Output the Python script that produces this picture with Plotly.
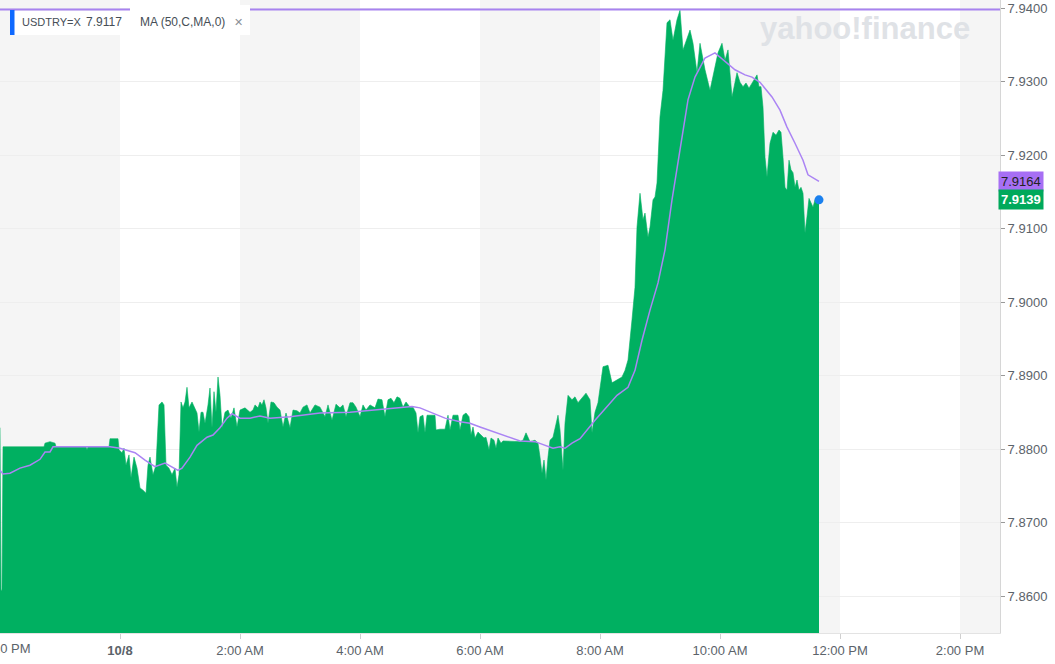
import plotly.graph_objects as go
import pandas as pd

# ---------------- data ----------------
session_start = pd.Timestamp("2020-10-07 22:00")   # minutes below are counted from here

price_minutes = [
    0, 1, 2, 3, 44, 45, 50, 55, 56, 86,
    87, 88, 109, 110, 118, 119, 122, 124, 126, 129,
    131, 134, 137, 140, 143, 146, 148, 150, 153, 156,
    159, 162, 164, 166, 169, 172, 175, 177, 179, 181,
    183, 185, 187, 189, 192, 195, 197, 199, 201, 203,
    205, 208, 210, 212, 214, 216, 218, 220, 222, 225,
    228, 231, 234, 237, 240, 245, 250, 253, 255, 258,
    260, 262, 264, 266, 268, 271, 274, 277, 280, 283,
    286, 290, 293, 297, 300, 303, 307, 310, 315, 320,
    325, 328, 332, 336, 340, 343, 346, 350, 353, 356,
    360, 363, 366, 370, 375, 378, 382, 385, 388, 391,
    394, 397, 400, 403, 406, 410, 413, 416, 418, 420,
    423, 425, 427, 435, 436, 440, 445, 448, 450, 453,
    458, 460, 463, 466, 469, 471, 473, 475, 478, 481,
    484, 486, 489, 491, 494, 496, 498, 501, 503, 520,
    523, 526, 528, 530, 535, 538, 540, 542, 544, 546,
    548, 550, 553, 556, 558, 560, 563, 565, 568, 572,
    575, 578, 582, 586, 590, 592, 595, 598, 603, 608,
    612, 617, 622, 625, 628, 632, 635, 637, 640, 643,
    645, 648, 650, 653, 655, 657, 660, 663, 667, 670,
    673, 677, 680, 683, 688, 690, 693, 697, 700, 705,
    710, 715, 718, 722, 725, 728, 732, 737, 740, 743,
    746, 749, 752, 755, 757, 759, 761, 763, 765, 767,
    770, 773, 776, 779, 781, 783, 785, 787, 789, 791,
    793, 795, 797, 799, 801, 803, 805, 807, 809, 811,
    813, 815, 817, 819,
]
price_values = [
    7.8829, 7.8608, 7.8608, 7.8803, 7.8803, 7.8808, 7.8810, 7.8808, 7.8803, 7.8803,
    7.8799, 7.8803, 7.8803, 7.8814, 7.8814, 7.8799, 7.8795, 7.8801, 7.8778, 7.8792,
    7.8761, 7.8789, 7.8774, 7.8747, 7.8744, 7.8740, 7.8778, 7.8789, 7.8765, 7.8778,
    7.8860, 7.8864, 7.8860, 7.8778, 7.8774, 7.8765, 7.8774, 7.8748, 7.8765, 7.8864,
    7.8856, 7.8864, 7.8884, 7.8856, 7.8864, 7.8856, 7.8849, 7.8823, 7.8850, 7.8850,
    7.8835, 7.8860, 7.8883, 7.8829, 7.8878, 7.8850, 7.8898, 7.8873, 7.8829, 7.8850,
    7.8853, 7.8842, 7.8856, 7.8830, 7.8853, 7.8856, 7.8850, 7.8853, 7.8860, 7.8856,
    7.8864, 7.8860, 7.8867, 7.8856, 7.8835, 7.8864, 7.8863, 7.8857, 7.8853, 7.8830,
    7.8849, 7.8829, 7.8853, 7.8852, 7.8849, 7.8857, 7.8860, 7.8849, 7.8860, 7.8857,
    7.8844, 7.8860, 7.8839, 7.8861, 7.8856, 7.8860, 7.8844, 7.8863, 7.8863, 7.8857,
    7.8844, 7.8860, 7.8853, 7.8860, 7.8856, 7.8868, 7.8867, 7.8844, 7.8867, 7.8869,
    7.8863, 7.8871, 7.8869, 7.8857, 7.8864, 7.8857, 7.8857, 7.8849, 7.8822, 7.8844,
    7.8846, 7.8822, 7.8846, 7.8846, 7.8826, 7.8827, 7.8827, 7.8846, 7.8826, 7.8846,
    7.8846, 7.8826, 7.8846, 7.8849, 7.8844, 7.8819, 7.8830, 7.8815, 7.8823, 7.8819,
    7.8815, 7.8816, 7.8799, 7.8815, 7.8812, 7.8801, 7.8815, 7.8808, 7.8811, 7.8810,
    7.8812, 7.8822, 7.8815, 7.8810, 7.8812, 7.8808, 7.8789, 7.8767, 7.8785, 7.8758,
    7.8789, 7.8812, 7.8816, 7.8835, 7.8846, 7.8826, 7.8771, 7.8835, 7.8873, 7.8867,
    7.8871, 7.8863, 7.8869, 7.8876, 7.8867, 7.8822, 7.8850, 7.8863, 7.8912, 7.8914,
    7.8890, 7.8894, 7.8898, 7.8907, 7.8921, 7.8976, 7.9020, 7.9102, 7.9148, 7.9112,
    7.9121, 7.9088, 7.9102, 7.9139, 7.9143, 7.9162, 7.9252, 7.9288, 7.9380, 7.9384,
    7.9356, 7.9384, 7.9397, 7.9343, 7.9361, 7.9370, 7.9352, 7.9312, 7.9352, 7.9316,
    7.9288, 7.9320, 7.9339, 7.9352, 7.9329, 7.9343, 7.9279, 7.9312, 7.9299, 7.9293,
    7.9298, 7.9291, 7.9298, 7.9306, 7.9309, 7.9293, 7.9293, 7.9265, 7.9197, 7.9170,
    7.9216, 7.9231, 7.9227, 7.9234, 7.9231, 7.9197, 7.9156, 7.9152, 7.9193, 7.9180,
    7.9176, 7.9156, 7.9166, 7.9152, 7.9156, 7.9148, 7.9094, 7.9116, 7.9141, 7.9135,
    7.9129, 7.9139, 7.9135, 7.9139,
]

ma_minutes = [
    0, 3, 10, 20, 30, 40, 45, 50, 53, 80,
    110, 120, 135, 145, 155, 165, 172, 178, 182, 190,
    197, 207, 213, 220, 227, 232, 240, 250, 260, 270,
    290, 320, 350, 380, 400, 412, 420, 430, 445, 460,
    470, 480, 495, 510, 520, 535, 545, 553, 560, 565,
    572, 580, 595, 610, 617, 628, 635, 642, 650, 658,
    665, 672, 680, 688, 695, 705, 715, 725, 735, 745,
    752, 760, 765, 772, 780, 787, 795, 803, 808, 813,
    819,
]
ma_values = [
    7.8771, 7.8766, 7.8767, 7.8774, 7.8778, 7.8786, 7.8796, 7.8796, 7.8803, 7.8803,
    7.8803, 7.8801, 7.8795, 7.8785, 7.8776, 7.8781, 7.8776, 7.8771, 7.8774, 7.8789,
    7.8805, 7.8816, 7.8819, 7.8829, 7.8842, 7.8848, 7.8842, 7.8842, 7.8845, 7.8842,
    7.8844, 7.8849, 7.8850, 7.8854, 7.8857, 7.8858, 7.8856, 7.8850, 7.8842, 7.8837,
    7.8835, 7.8830, 7.8823, 7.8816, 7.8811, 7.8810, 7.8805, 7.8801, 7.8803, 7.8801,
    7.8808, 7.8814, 7.8839, 7.8863, 7.8873, 7.8884, 7.8907, 7.8948, 7.8989, 7.9026,
    7.9071, 7.9139, 7.9207, 7.9275, 7.9306, 7.9332, 7.9339, 7.9327, 7.9316, 7.9309,
    7.9306, 7.9299, 7.9291, 7.9279, 7.9261, 7.9238, 7.9216, 7.9193, 7.9173, 7.9169,
    7.9164,
]

high_level = 7.9398
last_price = 7.9139
last_ma = 7.9164
legend_symbol = "USDTRY=X"
legend_value = "7.9117"
legend_ma = "MA (50,C,MA,0)"

tick_times = ["2020-10-08 00:00", "2020-10-08 02:00", "2020-10-08 04:00", "2020-10-08 06:00",
              "2020-10-08 08:00", "2020-10-08 10:00", "2020-10-08 12:00", "2020-10-08 14:00"]
tick_labels = ["<b>10/8</b>", "2:00 AM", "4:00 AM", "6:00 AM", "8:00 AM", "10:00 AM", "12:00 PM", "2:00 PM"]
first_label = "10 PM"
shade_starts = ["2020-10-07 22:00", "2020-10-08 02:00", "2020-10-08 06:00",
                "2020-10-08 10:00", "2020-10-08 14:00"]
shade_hours = 2
y_ticks = [7.86, 7.87, 7.88, 7.89, 7.90, 7.91, 7.92, 7.93, 7.94]
y_tick_text = ["7.8600", "7.8700", "7.8800", "7.8900", "7.9000", "7.9100", "7.9200", "7.9300", "7.9400"]
x_span_minutes = 1000
y_range = [7.85497, 7.94109]

assert len(price_minutes) == len(price_values)
assert len(ma_minutes) == len(ma_values)

# ---------------- build ----------------
px_times = [session_start + pd.Timedelta(minutes=m) for m in price_minutes]
ma_times = [session_start + pd.Timedelta(minutes=m) for m in ma_minutes]

GREEN = "#00b061"
PURPLE = "#ab84f4"
FONT = "Liberation Sans, Arial, sans-serif"
TXT = "#5b636a"

fig = go.Figure()
fig.add_trace(go.Scatter(
    x=px_times, y=price_values, mode="lines", fill="tozeroy",
    line=dict(color=GREEN, width=0.6), fillcolor=GREEN, hoverinfo="skip", showlegend=False,
))
fig.add_trace(go.Scatter(
    x=ma_times, y=ma_values, mode="lines",
    line=dict(color=PURPLE, width=1.5), hoverinfo="skip", showlegend=False,
))
fig.add_trace(go.Scatter(
    x=[px_times[-1]], y=[price_values[-1]], mode="markers",
    marker=dict(color="#1a80ee", size=9), hoverinfo="skip", showlegend=False,
))

shapes = []
for s in shade_starts:
    t0 = pd.Timestamp(s)
    shapes.append(dict(type="rect", xref="x", yref="paper", x0=t0,
                       x1=t0 + pd.Timedelta(hours=shade_hours), y0=0, y1=1,
                       fillcolor="#f5f5f5", line=dict(width=0), layer="below"))
shapes.append(dict(type="line", xref="paper", yref="y", x0=0, x1=1, y0=high_level, y1=high_level,
                   line=dict(color="#a883f0", width=2), layer="above"))
# legend boxes
shapes.append(dict(type="rect", xref="paper", yref="paper", x0=0.010, x1=0.122, y0=1 - 35 / 633, y1=1 - 11 / 633,
                   fillcolor="white", line=dict(width=0), layer="above"))
shapes.append(dict(type="rect", xref="paper", yref="paper", x0=0.130, x1=0.250, y0=1 - 35 / 633, y1=1 - 5 / 633,
                   fillcolor="white", line=dict(width=0), layer="above"))
shapes.append(dict(type="rect", xref="paper", yref="paper", x0=0.010, x1=0.0145, y0=1 - 35 / 633, y1=1 - 10 / 633,
                   fillcolor="#0f69ff", line=dict(width=0), layer="above"))

ymid = 1 - 22.5 / 633
annotations = [
    dict(xref="paper", yref="paper", x=0.020, y=ymid, text=legend_symbol, showarrow=False,
         xanchor="left", yanchor="middle", font=dict(family=FONT, size=11, color="#464e56")),
    dict(xref="paper", yref="paper", x=0.084, y=ymid, text=legend_value, showarrow=False,
         xanchor="left", yanchor="middle", font=dict(family=FONT, size=12, color="#464e56")),
    dict(xref="paper", yref="paper", x=0.138, y=ymid, text=legend_ma, showarrow=False,
         xanchor="left", yanchor="middle", font=dict(family=FONT, size=12, color="#464e56")),
    dict(xref="paper", yref="paper", x=0.232, y=ymid, text="✕", showarrow=False,
         xanchor="left", yanchor="middle", font=dict(family=FONT, size=11, color="#8a9097")),
    dict(xref="paper", yref="paper", x=0.865, y=1 - 28 / 633, text="<b>yahoo!finance</b>", showarrow=False,
         xanchor="center", yanchor="middle", font=dict(family=FONT, size=31, color="#dfe2e6")),
    dict(xref="paper", yref="paper", x=0, y=0, yshift=-15, xshift=-9, text=first_label, showarrow=False,
         xanchor="left", yanchor="middle", font=dict(family=FONT, size=13, color=TXT)),
    dict(xref="paper", yref="y", x=1, xshift=-2, y=last_ma, text=f"{last_ma:.4f}", showarrow=False,
         xanchor="left", yanchor="middle", bgcolor="#a76ff4", borderpad=2,
         font=dict(family=FONT, size=13, color="#222222")),
    dict(xref="paper", yref="y", x=1, xshift=-2, y=last_price, text=f"<b>{last_price:.4f}</b>", showarrow=False,
         xanchor="left", yanchor="middle", bgcolor="#00a95b", borderpad=2,
         font=dict(family=FONT, size=13, color="white")),
]

fig.update_layout(
    width=1055, height=664,
    margin=dict(l=0, r=55, t=0, b=31),
    paper_bgcolor="white", plot_bgcolor="white",
    shapes=shapes, annotations=annotations,
    showlegend=False,
    xaxis=dict(
        type="date",
        range=[session_start, session_start + pd.Timedelta(minutes=x_span_minutes)],
        tickvals=[pd.Timestamp(t) for t in tick_times], ticktext=tick_labels,
        showgrid=False, zeroline=False,
        showline=True, linecolor="#e3e3e3", linewidth=1,
        ticks="outside", ticklen=5, tickcolor="#d0d0d0",
        tickfont=dict(family=FONT, size=13, color=TXT),
    ),
    yaxis=dict(
        side="right", range=y_range,
        tickvals=y_ticks, ticktext=y_tick_text,
        showgrid=True, gridcolor="#eeeeee", gridwidth=1, zeroline=False,
        showline=True, linecolor="#d6d6d6", linewidth=1,
        ticks="outside", ticklen=4, tickcolor="#999999",
        tickfont=dict(family=FONT, size=13, color=TXT),
    ),
)

fig.write_html("out.html", config={"displayModeBar": False},
               post_script="document.body.style.margin='0';")
